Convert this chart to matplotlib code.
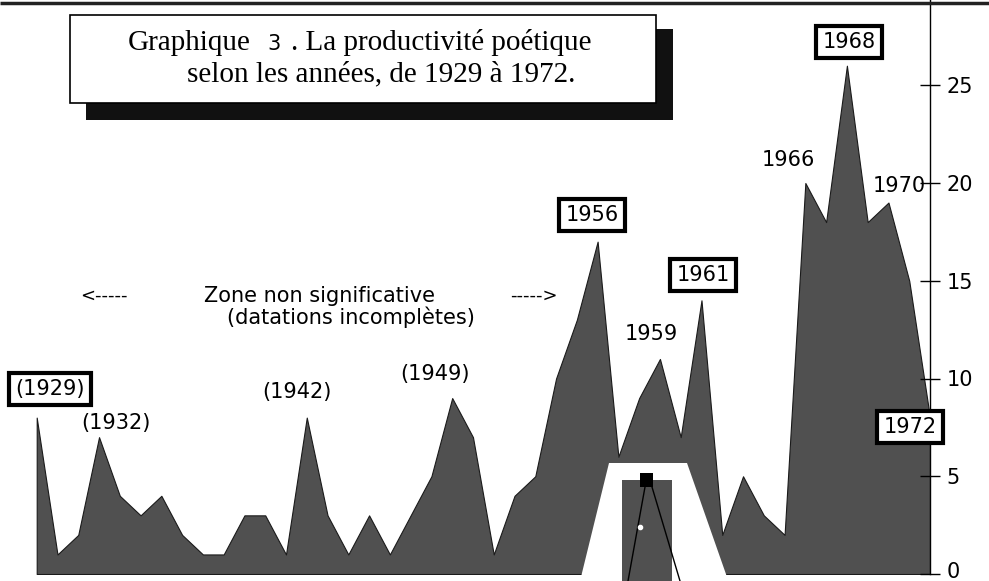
import matplotlib
matplotlib.use('Agg')
import matplotlib.pyplot as plt
import matplotlib.transforms as mtransforms
from matplotlib.patches import Rectangle, Polygon

# data
years = list(range(1929, 1973))
counts = [8, 1, 2, 7, 4, 3, 4, 2, 1, 1, 3, 3, 1, 8, 3, 1, 3, 1, 3, 5, 9, 7,
          1, 4, 5, 10, 13, 17, 6, 9, 11, 7, 14, 2, 5, 3, 2, 20, 18, 26, 18, 19, 15, 8]
yticks = [0, 5, 10, 15, 20, 25]

# year labels: (text, x px, y px, boxed)
labels = [('(1929)', 50, 389, True), ('(1932)', 116, 423, False),
          ('(1942)', 297, 392, False), ('(1949)', 435, 374, False),
          ('1956', 592, 215, True), ('1959', 651, 334, False),
          ('1961', 703, 275, True), ('1966', 788, 160, False),
          ('1968', 849, 42, True), ('1970', 899, 186, False),
          ('1972', 910, 427, True)]

W, H = 989, 581
FILL = '#505050'
SANS = 'DejaVu Sans'
SERIF = 'Liberation Serif'

fig = plt.figure(figsize=(W/100, H/100), dpi=100, facecolor='white')

# ── main area chart ─────────────────────────────────────────────
px_year = 20.77
px_unit = 19.55
ax = fig.add_axes([0, 7/H, 930/W, 574/H])
ax.fill_between(years, counts, 0, facecolor=FILL, edgecolor='#1a1a1a', lw=0.8)
ax.set_xlim(1929 - 36.7/px_year, 1972)
ax.set_ylim(0, 574/px_unit)
for s in ['top', 'left', 'bottom']:
    ax.spines[s].set_visible(False)
ax.spines['right'].set_linewidth(1)
ax.set_xticks([])
ax.yaxis.tick_right()
ax.set_yticks(yticks)
ax.tick_params(axis='y', direction='inout', length=14, width=1, pad=5,
               labelsize=15)
fig.canvas.draw()
for t in ax.get_yticklabels():
    t.set_family(SANS)
    if t.get_text() == '0':
        # scan cuts the 0 at the page edge; keep it just inside
        t.set_transform(t.get_transform() +
                        mtransforms.ScaledTranslation(0, 3/72, fig.dpi_scale_trans))

# ── overlay in pixel coords: title box, labels, scan artefacts ─
ov = fig.add_axes([0, 0, 1, 1])
ov.set_xlim(0, W); ov.set_ylim(H, 0)
ov.axis('off')
ov.patch.set_alpha(0)

ov.plot([0, W], [3, 3], color='#222222', lw=2.5, solid_capstyle='butt')

ov.add_patch(Rectangle((86, 29), 587, 91, fc='#111111', ec='none'))
ov.add_patch(Rectangle((70, 15), 586, 88, fc='white', ec='black', lw=1.2))
ov.text(128, 50, 'Graphique', family=SERIF, fontsize=21, va='baseline')
ov.text(267, 50, '3', family=SANS, fontsize=15, va='baseline')
ov.text(291, 50, '. La productivité poétique', family=SERIF, fontsize=21, va='baseline')
ov.text(187, 81, 'selon les années, de 1929 à 1972.', family=SERIF, fontsize=21,
        va='baseline')

for txt, x, y, boxed in labels:
    kw = {}
    if boxed:
        kw['bbox'] = dict(boxstyle='square,pad=0.3', fc='white', ec='black', lw=3)
    ov.text(x, y, txt, family=SANS, fontsize=15, ha='center', va='center', **kw)

ov.text(104, 296, '<-----', family=SANS, fontsize=13, ha='center', va='center')
ov.text(534, 296, '----->', family=SANS, fontsize=13, ha='center', va='center')
ov.text(320, 296, 'Zone non significative', family=SANS, fontsize=15,
        ha='center', va='center')
ov.text(351, 317, '(datations incomplètes)', family=SANS, fontsize=15,
        ha='center', va='center')

# pasted-over patch in the scan
ov.add_patch(Polygon([(581, 577), (609, 463), (687, 463), (727, 577)],
                     fc='white', ec='none', zorder=3))
ov.add_patch(Rectangle((622, 480), 50, 101, fc=FILL, ec='none', zorder=4))
ov.plot([645, 628], [487, 581], color='black', lw=1, zorder=5)
ov.plot([652, 680], [487, 581], color='black', lw=1, zorder=5)
ov.add_patch(Rectangle((640, 473), 13, 14, fc='black', ec='none', zorder=6))
ov.plot([640], [527], 'o', color='white', ms=3, zorder=6)

fig.savefig('out.png', dpi=100, facecolor='white')
